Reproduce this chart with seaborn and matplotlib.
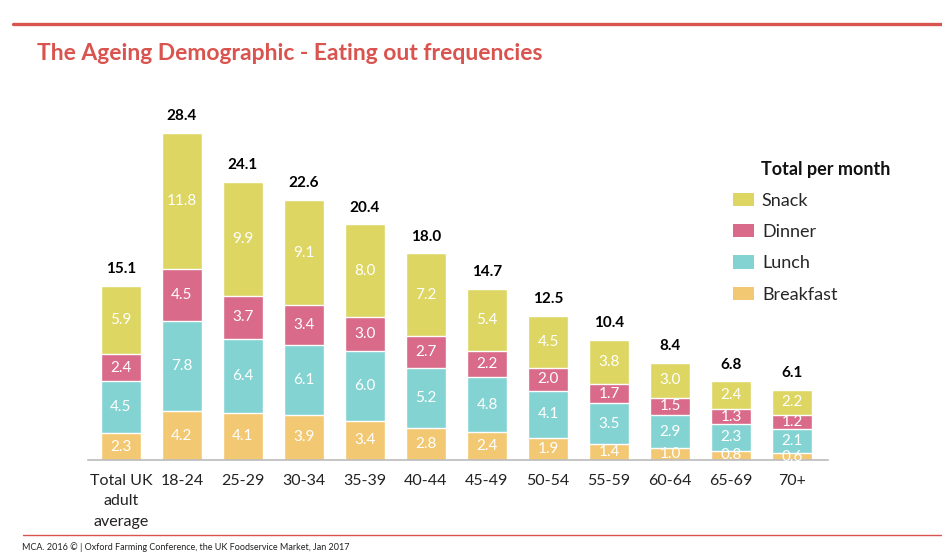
import numpy as np
import pandas as pd
import matplotlib.pyplot as plt
import seaborn as sns
from matplotlib.patches import Patch
from matplotlib.lines import Line2D

# data
groups = ["Total UK\nadult\naverage", "18-24", "25-29", "30-34", "35-39", "40-44",
          "45-49", "50-54", "55-59", "60-64", "65-69", "70+"]
breakfast = [2.3, 4.2, 4.1, 3.9, 3.4, 2.8, 2.4, 1.9, 1.4, 1.0, 0.8, 0.6]
lunch = [4.5, 7.8, 6.4, 6.1, 6.0, 5.2, 4.8, 4.1, 3.5, 2.9, 2.3, 2.1]
dinner = [2.4, 4.5, 3.7, 3.4, 3.0, 2.7, 2.2, 2.0, 1.7, 1.5, 1.3, 1.2]
snack = [5.9, 11.8, 9.9, 9.1, 8.0, 7.2, 5.4, 4.5, 3.8, 3.0, 2.4, 2.2]
totals = [15.1, 28.4, 24.1, 22.6, 20.4, 18.0, 14.7, 12.5, 10.4, 8.4, 6.8, 6.1]

meals = ["Breakfast", "Lunch", "Dinner", "Snack"]
colors = {"Breakfast": "#F3C872", "Lunch": "#84D3D3", "Dinner": "#D96A8A", "Snack": "#DDD663"}
red = "#D9534F"

df = pd.DataFrame({"group": groups, "Breakfast": breakfast, "Lunch": lunch,
                   "Dinner": dinner, "Snack": snack})
cum = df[meals].cumsum(axis=1)

sns.set_style("white")
plt.rcParams['font.family'] = ['Lato', 'DejaVu Sans']

fig = plt.figure(figsize=(9.42, 5.58), dpi=100)
ax = fig.add_axes([88 / 942, 98 / 558, 740 / 942, 346.5 / 558])

# stacked bars: draw cumulative heights from top segment down
for m in meals[::-1]:
    sns.barplot(x=df["group"], y=cum[m], color=colors[m], width=0.67,
                saturation=1, ax=ax, order=groups)

ax.set_xlim(-0.54, 11.59)
ax.set_ylim(0, 30)
ax.set_xlabel("")
ax.set_ylabel("")
ax.set_yticks([])
for s in ["top", "right", "left"]:
    ax.spines[s].set_visible(False)
ax.spines["bottom"].set_color("#BBBBBB")
ax.spines["bottom"].set_linewidth(1.2)
ax.tick_params(axis="x", length=0, pad=10, labelsize=11.5, colors="#222222")
plt.setp(ax.get_xticklabels(), linespacing=1.6, va="top")

# segment labels
for i in range(len(groups)):
    base = 0
    for m in meals:
        v = df[m][i]
        ax.text(i, base + v / 2, f"{v:.1f}", ha="center", va="center",
                color="white", fontsize=11)
        base += v
    ax.text(i, cum["Snack"][i] + 1.45, f"{totals[i]:.1f}", ha="center",
            va="center", color="black", fontsize=11, fontweight="bold")

# legend
fig.text(761 / 942, 1 - 170 / 558, "Total per month", fontsize=13,
         fontweight="bold", va="center", ha="left", color="#111111")
handles = [Patch(facecolor=colors[m], edgecolor="none", label=m) for m in meals[::-1]]
fig.legend(handles=handles, loc="upper left", bbox_to_anchor=(733 / 942, 1 - 193 / 558),
           frameon=False, fontsize=13, borderpad=0, borderaxespad=0,
           handlelength=1.15, handleheight=0.75, handletextpad=0.45, labelspacing=0.84)

# title and decorative lines
fig.add_artist(Line2D([13 / 942, 1], [1 - 24 / 558, 1 - 24 / 558], color=red, lw=2.4))
fig.text(37 / 942, 1 - 53 / 558, "The Ageing Demographic - Eating out frequencies",
         fontsize=16.5, fontweight="bold", color=red, va="center", ha="left")
fig.add_artist(Line2D([23 / 942, 1], [1 - 535 / 558, 1 - 535 / 558], color=red, lw=1.0))
fig.text(22 / 942, 1 - 547 / 558,
         "MCA. 2016 \u00a9 | Oxford Farming Conference, the UK Foodservice Market, Jan 2017",
         fontsize=6.5, color="#222222", va="center", ha="left")

fig.savefig("out.png", dpi=100)
